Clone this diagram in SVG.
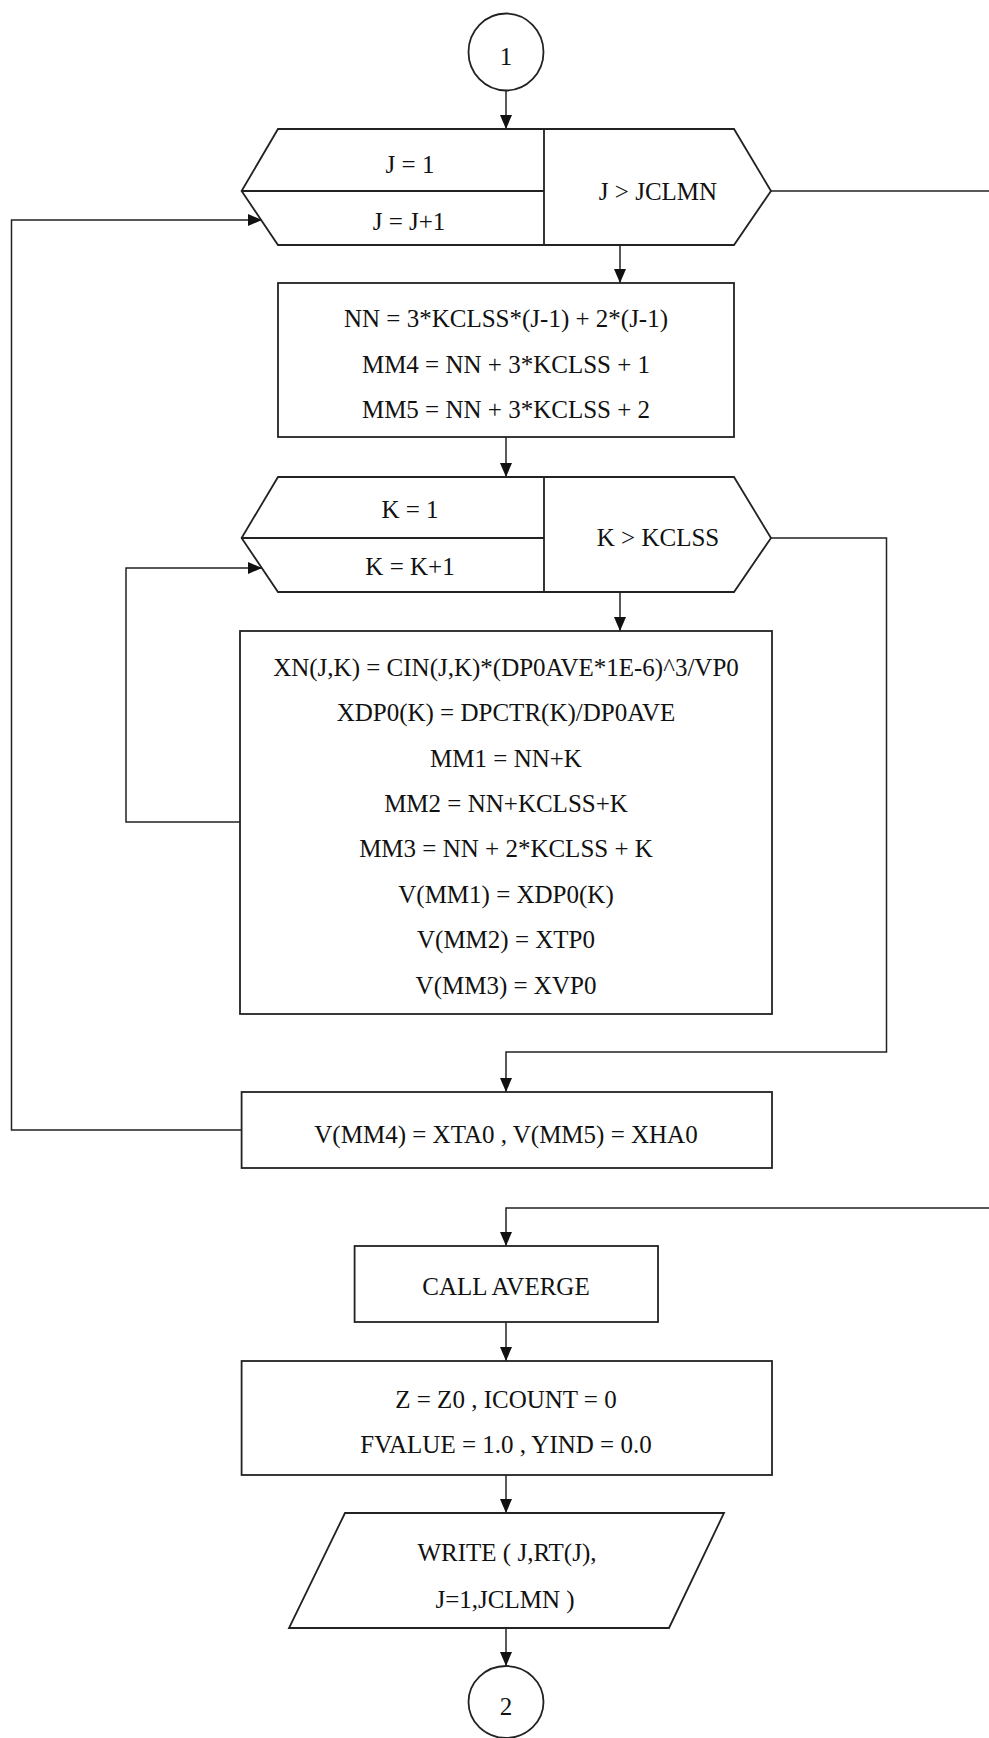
<svg xmlns="http://www.w3.org/2000/svg" width="989" height="1738" viewBox="0 0 989 1738">
<style>
.s{fill:#fff;stroke:#222;stroke-width:1.8}
.l{fill:none;stroke:#222;stroke-width:1.8}
.c{fill:none;stroke:#222;stroke-width:1.5}
text{font-family:"Liberation Serif","Times New Roman",serif;font-size:25px;fill:#111;text-anchor:middle}
</style>
<defs>
<marker id="ah" markerWidth="14" markerHeight="12" refX="14" refY="6" orient="auto" markerUnits="userSpaceOnUse">
<path d="M0,0 L14,6 L0,12 z" fill="#111"/>
</marker>
</defs>
<rect width="989" height="1738" fill="#fff"/>
<g id="connectors">
<path class="c" d="M506,91 V129" marker-end="url(#ah)"/>
<path class="c" d="M771,191 H989"/>
<path class="c" d="M620,245 V283" marker-end="url(#ah)"/>
<path class="c" d="M506,437 V477" marker-end="url(#ah)"/>
<path class="c" d="M620,592 V631" marker-end="url(#ah)"/>
<path class="c" d="M771,538 H886.5 V1052 H506 V1092" marker-end="url(#ah)"/>
<path class="c" d="M240,822 H126 V568 H262" marker-end="url(#ah)"/>
<path class="c" d="M241.6,1130 H11.5 V220 H262" marker-end="url(#ah)"/>
<path class="c" d="M989,1208 H506 V1246" marker-end="url(#ah)"/>
<path class="c" d="M506,1322 V1361" marker-end="url(#ah)"/>
<path class="c" d="M506,1475 V1513" marker-end="url(#ah)"/>
<path class="c" d="M506,1628 V1666" marker-end="url(#ah)"/>
</g>
<g id="start">
<ellipse class="s" cx="506" cy="52" rx="37.5" ry="38.5"/>
<text x="506" y="65">1</text>
</g>
<g id="loopJ">
<polygon class="s" points="278,129 734,129 771,191 734,245 278,245 241.6,191"/>
<path class="l" d="M544,129 V245 M241.6,191 H544"/>
<text x="410" y="173">J = 1</text>
<text x="409" y="230">J = J+1</text>
<text x="658" y="200">J &gt; JCLMN</text>
</g>
<g id="boxNN">
<rect class="s" x="278" y="283" width="456" height="154"/>
<text x="506" y="327">NN = 3*KCLSS*(J-1) + 2*(J-1)</text>
<text x="506" y="373">MM4 = NN + 3*KCLSS + 1</text>
<text x="506" y="418">MM5 = NN + 3*KCLSS + 2</text>
</g>
<g id="loopK">
<polygon class="s" points="278,477 734,477 771,538 734,592 278,592 241.6,538"/>
<path class="l" d="M544,477 V592 M241.6,538 H544"/>
<text x="410" y="518">K = 1</text>
<text x="410" y="575">K = K+1</text>
<text x="658" y="546">K &gt; KCLSS</text>
</g>
<g id="boxInner">
<rect class="s" x="240" y="631" width="532" height="383"/>
<text x="506" y="676">XN(J,K) = CIN(J,K)*(DP0AVE*1E-6)^3/VP0</text>
<text x="506" y="721">XDP0(K) = DPCTR(K)/DP0AVE</text>
<text x="506" y="767">MM1 = NN+K</text>
<text x="506" y="812">MM2 = NN+KCLSS+K</text>
<text x="506" y="857">MM3 = NN + 2*KCLSS + K</text>
<text x="506" y="903">V(MM1) = XDP0(K)</text>
<text x="506" y="948">V(MM2) = XTP0</text>
<text x="506" y="994">V(MM3) = XVP0</text>
</g>
<g id="boxV">
<rect class="s" x="241.6" y="1092" width="530.4" height="76"/>
<text x="506" y="1143">V(MM4) = XTA0 , V(MM5) = XHA0</text>
</g>
<g id="callAverge">
<rect class="s" x="354.6" y="1246" width="303.4" height="76"/>
<text x="506" y="1295">CALL AVERGE</text>
</g>
<g id="boxZ">
<rect class="s" x="241.6" y="1361" width="530.4" height="114"/>
<text x="506" y="1408">Z = Z0 , ICOUNT = 0</text>
<text x="506" y="1453">FVALUE = 1.0 , YIND = 0.0</text>
</g>
<g id="write">
<polygon class="s" points="345,1513 724,1513 669,1628 289,1628"/>
<text x="507" y="1561">WRITE ( J,RT(J),</text>
<text x="505" y="1608">J=1,JCLMN )</text>
</g>
<g id="end">
<ellipse class="s" cx="506" cy="1702" rx="37.5" ry="36"/>
<text x="506" y="1715">2</text>
</g>
</svg>
